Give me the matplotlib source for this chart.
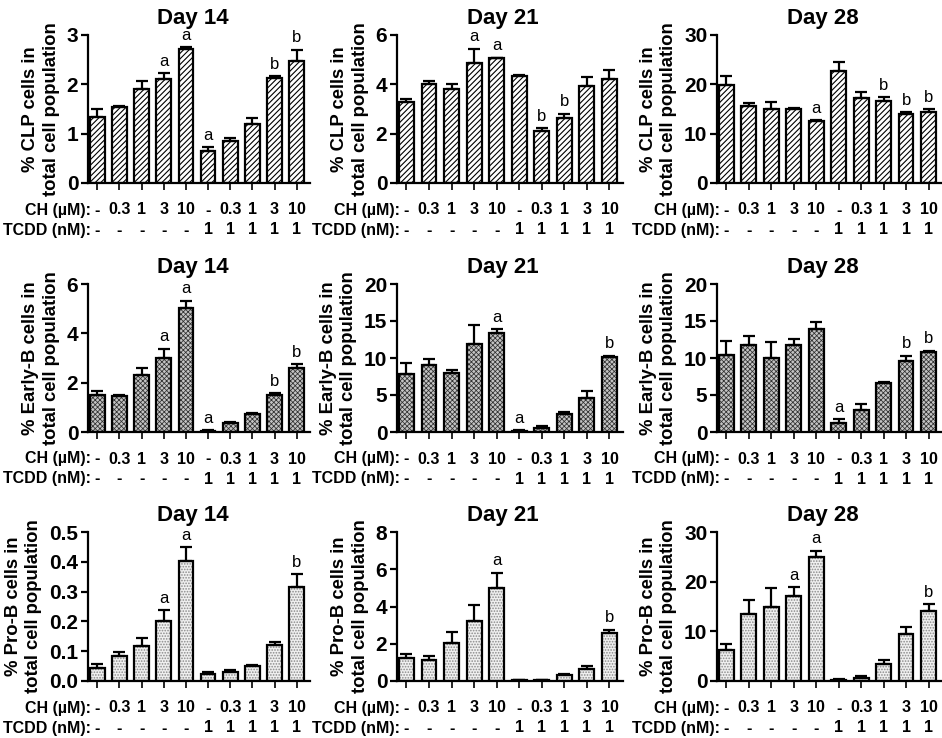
import matplotlib
matplotlib.use("Agg")
import matplotlib.pyplot as plt
import numpy as np

plt.rcParams['font.family'] = ['Liberation Sans', 'DejaVu Sans']
plt.rcParams['hatch.linewidth'] = 0.8

ch_labels = ['-', '0.3', '1', '3', '10', '-', '0.3', '1', '3', '10']
tcdd_labels = ['-', '-', '-', '-', '-', '1', '1', '1', '1', '1']
days = ['Day 14', 'Day 21', 'Day 28']
cell_types = ['CLP', 'Early-B', 'Pro-B']

# CLP
clp_d14 = [1.33, 1.55, 1.90, 2.10, 2.72, 0.65, 0.85, 1.20, 2.12, 2.47]
clp_d14_err = [0.16, 0.01, 0.17, 0.12, 0.03, 0.08, 0.07, 0.12, 0.05, 0.23]
clp_d14_sig = ['', '', '', 'a', 'a', 'a', '', '', 'b', 'b']
clp_d21 = [3.30, 4.00, 3.83, 4.87, 5.05, 4.33, 2.12, 2.65, 3.92, 4.22]
clp_d21_err = [0.10, 0.15, 0.20, 0.57, 0.03, 0.05, 0.10, 0.15, 0.38, 0.35]
clp_d21_sig = ['', '', '', 'a', 'a', '', 'b', 'b', '', '']
clp_d28 = [19.8, 15.6, 14.9, 14.9, 12.5, 22.7, 17.3, 16.6, 14.0, 14.3]
clp_d28_err = [1.8, 0.6, 1.5, 0.4, 0.2, 1.8, 1.1, 0.8, 0.4, 0.6]
clp_d28_sig = ['', '', '', '', 'a', '', '', 'b', 'b', 'b']

# Early-B
eb_d14 = [1.50, 1.45, 2.33, 3.00, 5.02, 0.05, 0.35, 0.72, 1.52, 2.60]
eb_d14_err = [0.15, 0.07, 0.27, 0.37, 0.30, 0.02, 0.04, 0.07, 0.06, 0.15]
eb_d14_sig = ['', '', '', 'a', 'a', 'a', '', '', 'b', 'b']
eb_d21 = [7.8, 9.1, 7.95, 11.9, 13.4, 0.2, 0.55, 2.5, 4.6, 10.2]
eb_d21_err = [1.5, 0.7, 0.4, 2.6, 0.5, 0.05, 0.2, 0.25, 0.9, 0.1]
eb_d21_sig = ['', '', '', '', 'a', 'a', '', '', '', 'b']
eb_d28 = [10.4, 11.7, 10.0, 11.8, 13.9, 1.2, 3.0, 6.6, 9.6, 10.8]
eb_d28_err = [1.9, 1.3, 2.2, 0.8, 0.9, 0.5, 0.8, 0.2, 0.7, 0.2]
eb_d28_sig = ['', '', '', '', '', 'a', '', '', 'b', 'b']

# Pro-B
pb_d14 = [0.045, 0.083, 0.118, 0.203, 0.403, 0.025, 0.030, 0.050, 0.120, 0.315]
pb_d14_err = [0.013, 0.015, 0.025, 0.035, 0.045, 0.005, 0.006, 0.004, 0.010, 0.043]
pb_d14_sig = ['', '', '', 'a', 'a', '', '', '', '', 'b']
pb_d21 = [1.25, 1.12, 2.05, 3.20, 5.02, 0.03, 0.05, 0.30, 0.65, 2.60]
pb_d21_err = [0.22, 0.22, 0.58, 0.90, 0.80, 0.01, 0.03, 0.06, 0.15, 0.15]
pb_d21_sig = ['', '', '', '', 'a', '', '', '', '', 'b']
pb_d28 = [6.2, 13.5, 15.0, 17.1, 25.0, 0.3, 0.7, 3.4, 9.5, 14.0]
pb_d28_err = [1.3, 2.8, 3.8, 1.8, 1.2, 0.1, 0.3, 0.9, 1.4, 1.5]
pb_d28_sig = ['', '', '', 'a', 'a', '', '', '', '', 'b']

data = [
    [(clp_d14, clp_d14_err, clp_d14_sig), (clp_d21, clp_d21_err, clp_d21_sig), (clp_d28, clp_d28_err, clp_d28_sig)],
    [(eb_d14, eb_d14_err, eb_d14_sig), (eb_d21, eb_d21_err, eb_d21_sig), (eb_d28, eb_d28_err, eb_d28_sig)],
    [(pb_d14, pb_d14_err, pb_d14_sig), (pb_d21, pb_d21_err, pb_d21_sig), (pb_d28, pb_d28_err, pb_d28_sig)],
]
yticks = [
    [[0, 1, 2, 3], [0, 2, 4, 6], [0, 10, 20, 30]],
    [[0, 2, 4, 6], [0, 5, 10, 15, 20], [0, 5, 10, 15, 20]],
    [[0.0, 0.1, 0.2, 0.3, 0.4, 0.5], [0, 2, 4, 6, 8], [0, 10, 20, 30]],
]
ytick_fmt = [
    [None, None, None],
    [None, None, None],
    ['{:.1f}', None, None],
]

styles = [
    dict(facecolor='white', hatch='//////', hcolor='black', hlw=0.8),
    dict(facecolor='#c4c4c4', hatch='xxxxxxx', hcolor='#303030', hlw=0.55),
    dict(facecolor='#f0f0f0', hatch='......', hcolor='#8a8a8a', hlw=0.8),
]

W, H = 942, 738
fig = plt.figure(figsize=(W / 100, H / 100), dpi=100)

col_left = [88, 397, 717]
col_right = [310, 623, 942]
row_top = [35, 284, 532]
row_bot = [183, 432, 681]

x = np.arange(10)
for r in range(3):
    for c in range(3):
        l, rr = col_left[c], col_right[c]
        t, b = row_top[r], row_bot[r]
        ax = fig.add_axes([l / W, 1 - b / H, (rr - l) / W, (b - t) / H])
        vals, errs, sig = data[r][c]
        st = styles[r]
        with plt.rc_context({'hatch.linewidth': st['hlw'], 'hatch.color': st['hcolor']}):
            bars = ax.bar(x, vals, width=0.66, facecolor=st['facecolor'], hatch=st['hatch'],
                          edgecolor='black', linewidth=1.6, zorder=2)
        for bar in bars:
            bar._hatch_color = matplotlib.colors.to_rgba(st['hcolor'])
        ax.errorbar(x, vals, yerr=[np.zeros(10), errs], fmt='none', ecolor='black',
                    elinewidth=1.6, capsize=4, capthick=1.6, zorder=3)
        yt = yticks[r][c]
        ymax = yt[-1]
        for i in range(10):
            if sig[i]:
                ax.text(x[i], vals[i] + errs[i] + ymax * 0.03, sig[i], ha='center', va='bottom',
                        fontsize=12)
        ax.set_xlim(-0.42, 9.6)
        ax.set_ylim(0, ymax)
        ax.set_yticks(yt)
        fmt = ytick_fmt[r][c]
        if fmt:
            ax.set_yticklabels([fmt.format(v) for v in yt])
        else:
            ax.set_yticklabels([str(v) for v in yt])
        for lab in ax.get_yticklabels():
            lab.set_fontweight('bold')
            lab.set_fontsize(15)
        ax.tick_params(axis='y', direction='out', length=5, width=1.6, pad=2)
        ax.set_xticks(x)
        ax.set_xticklabels([])
        ax.tick_params(axis='x', direction='out', length=5, width=1.2)
        for s in ['top', 'right']:
            ax.spines[s].set_visible(False)
        for s in ['left', 'bottom']:
            ax.spines[s].set_linewidth(1.6)
        ax.set_ylabel('% ' + cell_types[r] + ' cells in\ntotal cell population',
                      fontsize=13.3, fontweight='bold', labelpad=5, linespacing=1.25)
        ax.set_title(days[c], fontsize=16, fontweight='bold', pad=8, x=0.47)
        tr = ax.get_xaxis_transform()
        off1 = -27 / (b - t)
        off2 = -47 / (b - t)
        for i in range(10):
            ax.text(x[i], off1, ch_labels[i], transform=tr, ha='center', va='center',
                    fontsize=11.5, fontweight='bold')
            ax.text(x[i], off2, tcdd_labels[i], transform=tr, ha='center', va='center',
                    fontsize=11.5, fontweight='bold')
        ax.text(-0.28, off1, 'CH (\u00b5M):', transform=tr, ha='right', va='center',
                fontsize=11.5, fontweight='bold')
        ax.text(-0.28, off2, 'TCDD (nM):', transform=tr, ha='right', va='center',
                fontsize=11.5, fontweight='bold')

fig.savefig('out.png', dpi=100)
